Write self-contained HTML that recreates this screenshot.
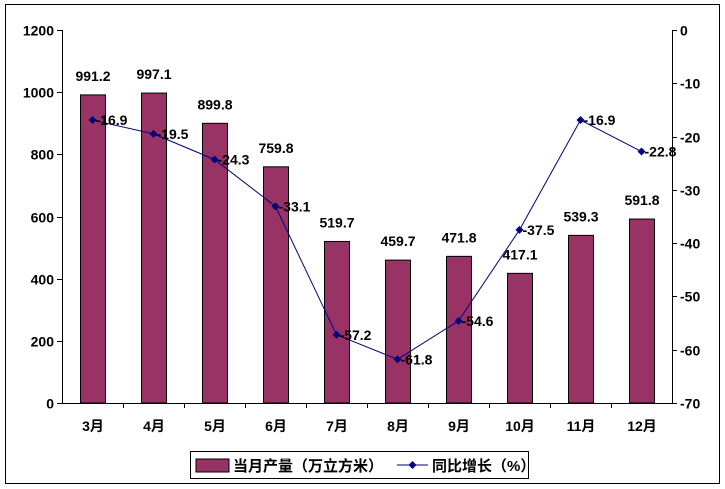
<!DOCTYPE html>
<html><head><meta charset="utf-8"><style>
body{margin:0;background:#fff}
svg{display:block;font-family:"Liberation Sans","Noto Sans CJK SC",sans-serif}
</style></head><body>
<svg id="c" width="725" height="489" viewBox="0 0 725 489" xmlns="http://www.w3.org/2000/svg">
<rect x="5.5" y="4.5" width="714" height="479" fill="#fff" stroke="#000"/>
<g id="g"></g>
<g>
<rect x="190.5" y="451.5" width="338" height="27" fill="#fff" stroke="#000"/>
<rect x="196" y="459" width="33" height="13" fill="#993366" stroke="#000"/>
<text x="233" y="471" font-size="15" font-weight="bold">当月产量（万立方米）</text>
<line x1="397" y1="465" x2="428" y2="465" stroke="#000080"/>
<path d="M412.5 461 L416.5 465 L412.5 469 L408.5 465Z" fill="#000080"/>
<text x="432" y="471" font-size="15" font-weight="bold">同比增长（%）</text>
</g>
</svg>
<script>
const categories=["3月","4月","5月","6月","7月","8月","9月","10月","11月","12月"];
const production=[991.2,997.1,899.8,759.8,519.7,459.7,471.8,417.1,539.3,591.8];
const growth=[-16.9,-19.5,-24.3,-33.1,-57.2,-61.8,-54.6,-37.5,-16.9,-22.8];
const leftTicks=[0,200,400,600,800,1000,1200];
const rightTicks=[0,-10,-20,-30,-40,-50,-60,-70];
const X0=62,X1=672,Y0=403,Y1=30;
const band=(X1-X0)/categories.length;
const xc=i=>X0+band*(i+0.5);
const yL=v=>Y0-(v/1200)*(Y0-Y1);
const yR=v=>Y1+(-v/70)*(Y0-Y1);
const g=document.getElementById('g');
const NS='http://www.w3.org/2000/svg';
function mk(t,a,txt){const e=document.createElementNS(NS,t);for(const k in a)e.setAttribute(k,a[k]);if(txt!=null)e.textContent=txt;g.appendChild(e);return e;}
let e;
e=mk('line',{x1:X0+.5,y1:Y1,x2:X0+.5,y2:Y0,stroke:'#000'});


e=mk('line',{x1:X1+.5,y1:Y1,x2:X1+.5,y2:Y0,stroke:'#000'});


leftTicks.forEach(v=>{const y=Math.round(yL(v))+.5;
mk('line',{x1:X0-5,y1:y,x2:X0,y2:y,stroke:'#000'});
e=mk('text',{x:X0-8,y:y+5,'text-anchor':'end','font-size':14,'font-weight':'bold'},v);

});
rightTicks.forEach(v=>{const y=Math.round(yR(v))+.5;
mk('line',{x1:X1,y1:y,x2:X1+5,y2:y,stroke:'#000'});
e=mk('text',{x:X1+8,y:y+5,'font-size':14,'font-weight':'bold'},v);

});
categories.forEach((c,i)=>{const x=Math.round(xc(i));
const t=Math.round(X0+band*i)+.5; if(i>0)mk('line',{x1:t,y1:Y0,x2:t,y2:Y0+5,stroke:'#000'});
const h=Y0-yL(production[i]);
e=mk('rect',{x:x-12.5,y:yL(production[i]),width:25,height:h,fill:'#993366',stroke:'#000','stroke-width':1});


e=mk('text',{x:x,y:yL(production[i])-14,'text-anchor':'middle','font-size':14,'font-weight':'bold'},production[i].toFixed(1));


e=mk('text',{x:x,y:Y0+28,'text-anchor':'middle','font-size':14,'font-weight':'bold'},c);

});
e=mk('line',{x1:X0,y1:Y0+.5,x2:X1,y2:Y0+.5,stroke:'#000'});


e=mk('polyline',{points:growth.map((v,i)=>xc(i)+','+yR(v)).join(' '),fill:'none',stroke:'#000080','stroke-width':1});


growth.forEach((v,i)=>{const x=xc(i),y=yR(v);
e=mk('path',{d:`M${x} ${y-4}L${x+4} ${y}L${x} ${y+4}L${x-4} ${y}Z`,fill:'#000080'});


e=mk('text',{x:x+3,y:y+5,'font-size':14,'font-weight':'bold'},v.toFixed(1));

});
</script>
</body></html>
